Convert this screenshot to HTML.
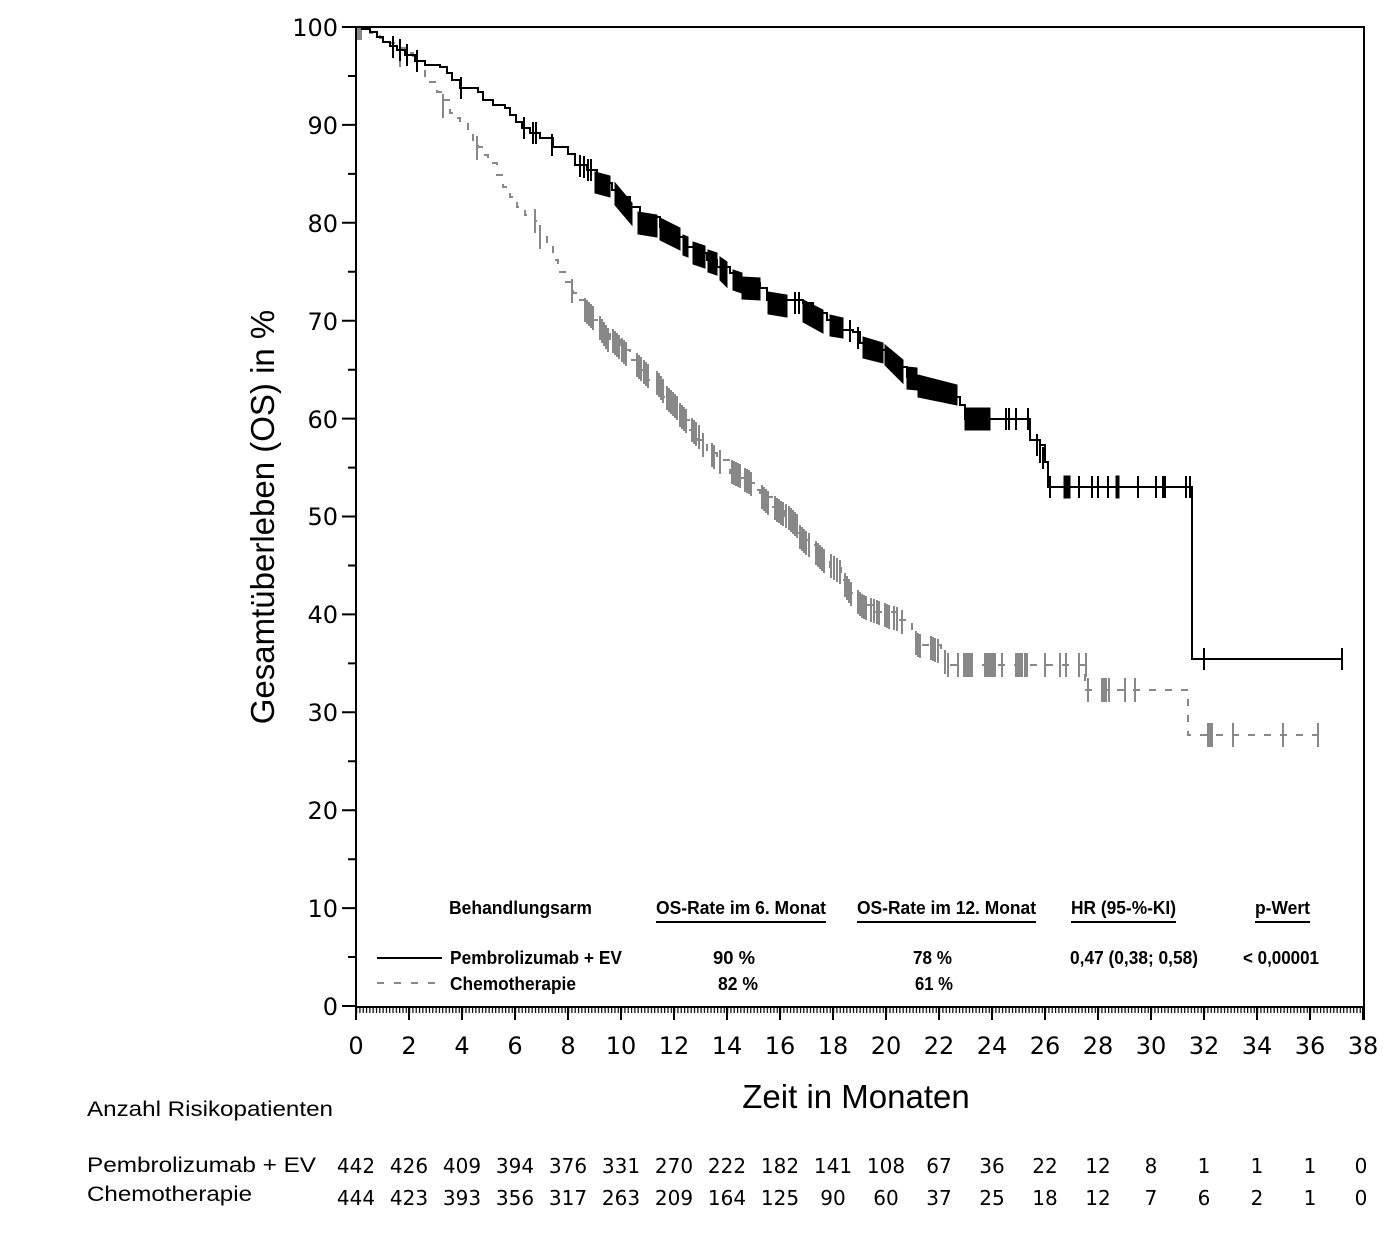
<!DOCTYPE html>
<html>
<head>
<meta charset="utf-8">
<style>
html,body{margin:0;padding:0;background:#fff;}
svg{display:block;}
.tl{font-family:"DejaVu Sans","Liberation Sans",sans-serif;font-size:24px;fill:#000;}
.rn{font-family:"DejaVu Sans","Liberation Sans",sans-serif;font-size:20px;fill:#000;}
.ar{font-family:"Liberation Sans",Arial,sans-serif;fill:#000;}
.lg{font-family:"Liberation Sans",Arial,sans-serif;font-weight:bold;font-size:18.5px;fill:#000;}
</style>
</head>
<body>
<svg width="1386" height="1233" viewBox="0 0 1386 1233" xmlns="http://www.w3.org/2000/svg">
<defs>
<pattern id="mt" x="356" y="0" width="3.3125" height="20" patternUnits="userSpaceOnUse">
<rect x="0" y="0" width="1.2" height="20" fill="#000"/>
</pattern>
</defs>
<rect x="0" y="0" width="1386" height="1233" fill="#fff"/>

<!-- frame -->
<path d="M356,27 H1364 V1007 H356 Z" fill="none" stroke="#000" stroke-width="2"/>
<path d="M356,1007 V1020 M1364,1007 V1020" stroke="#000" stroke-width="2"/>

<!-- y ticks -->
<path d="M342,1006 H356 M342,908.1 H356 M342,810.2 H356 M342,712.3 H356 M342,614.4 H356 M342,516.5 H356 M342,418.6 H356 M342,320.7 H356 M342,222.8 H356 M342,124.9 H356 M342,27 H356" stroke="#000" stroke-width="2"/>
<path d="M348,957 H356 M348,859.2 H356 M348,761.3 H356 M348,663.4 H356 M348,565.5 H356 M348,467.6 H356 M348,369.7 H356 M348,271.8 H356 M348,173.9 H356 M348,76 H356" stroke="#000" stroke-width="2"/>

<!-- y labels -->
<g class="tl" text-anchor="end">
<text x="338" y="1015">0</text>
<text x="338" y="917">10</text>
<text x="338" y="819">20</text>
<text x="338" y="721">30</text>
<text x="338" y="623">40</text>
<text x="338" y="525">50</text>
<text x="338" y="428">60</text>
<text x="338" y="330">70</text>
<text x="338" y="232">80</text>
<text x="338" y="134">90</text>
<text x="338" y="36">100</text>
</g>

<!-- x minor ticks -->
<rect x="356" y="1007" width="1008" height="6" fill="url(#mt)"/>
<!-- x major ticks -->
<path d="M356,1007 V1020 M409,1007 V1020 M462,1007 V1020 M515,1007 V1020 M568,1007 V1020 M621,1007 V1020 M674,1007 V1020 M727,1007 V1020 M780,1007 V1020 M833,1007 V1020 M886,1007 V1020 M939,1007 V1020 M992,1007 V1020 M1045,1007 V1020 M1098,1007 V1020 M1151,1007 V1020 M1204,1007 V1020 M1257,1007 V1020 M1310,1007 V1020 M1363,1007 V1020" stroke="#000" stroke-width="2"/>

<!-- x labels -->
<g class="tl" text-anchor="middle">
<text x="356" y="1054">0</text>
<text x="409" y="1054">2</text>
<text x="462" y="1054">4</text>
<text x="515" y="1054">6</text>
<text x="568" y="1054">8</text>
<text x="621" y="1054">10</text>
<text x="674" y="1054">12</text>
<text x="727" y="1054">14</text>
<text x="780" y="1054">16</text>
<text x="833" y="1054">18</text>
<text x="886" y="1054">20</text>
<text x="939" y="1054">22</text>
<text x="992" y="1054">24</text>
<text x="1045" y="1054">26</text>
<text x="1098" y="1054">28</text>
<text x="1151" y="1054">30</text>
<text x="1204" y="1054">32</text>
<text x="1257" y="1054">34</text>
<text x="1310" y="1054">36</text>
<text x="1363" y="1054">38</text>
</g>

<!-- axis titles -->
<text class="ar" font-size="33" text-anchor="middle" transform="translate(274,517) rotate(-90)">Gesamtüberleben (OS) in %</text>
<text class="ar" font-size="33" x="856" y="1108" text-anchor="middle">Zeit in Monaten</text>

<!-- Chemo curve (gray dashed) -->
<path d="M356,27 H362 V30 H370 V33 H380 V38 H390 V43 H400 V48 H408 V53 H413 V60 H417 V70 H425 V76 H430 V82 H437 V92 H443 V100 H450 V113 H455 V118 H460 V123 H468 V132 H473 V140 H478 V147 H483 V155 H488 V163 H497 V175 H503 V187 H510 V197 H517 V207 H525 V215 H535 V221 H540 V235 H547 V247 H553 V260 H558 V272 H565 V282 H573 V293 H580 V300 H587 V307 H592 V320 H602 V330 H610 V340 H620 V350 H630 V360 H637 V370 H647 V380 H658 V383 H663 V397 H673 V407 H680 V420 H690 V430 H697 V440 H707 V453 H717 V460 H730 V473 H740 V478 H747 V483 H755 V490 H760 V497 H773 V507 H785 V520 H795 V533 H800 V540 H810 V545 H818 V558 H830 V568 H841 V580 H850 V593 H860 V605 H875 V612 H898 V620 H912 V632 H918 V645 H941 V655 H945 V665 H1085 V690 H1188 V735 H1318" fill="none" stroke="#888" stroke-width="2" stroke-dasharray="7 9"/>
<rect x="357" y="28" width="5" height="12" fill="#888"/>
<!-- Chemo censor ticks -->
<path fill="none" stroke="#888" stroke-width="2" d="
M400,43V67 M443,94V118 M477,136V160 M535,209V233 M540,225V249 M572,279V303
M585,298V322 M587,300V324 M589,302V326 M591,304V328 M593,306V330
M600,316V340 M602,319V343 M604,322V346 M606,325V349 M608,328V352
M613,329V353 M615,331V355 M617,333V357 M619,335V359
M622,338V362 M624,340V364 M626,342V366
M637,353V377 M639,355V379 M641,357V381 M644,360V384 M646,362V386 M648,364V388
M657,371V395 M659,373V397 M661,376V400 M663,379V403
M667,386V410 M669,388V412 M671,390V414 M673,392V416 M675,394V418 M677,396V420
M680,403V427 M682,405V429 M684,407V431 M686,409V433
M692,418V442 M694,420V444 M696,422V446 M699,425V449
M703,433V457 M712,443V467 M714,445V469 M720,450V474
M732,460V484 M734,461V485 M736,462V486 M738,463V487 M740,464V488
M745,468V492 M747,469V493 M749,470V494 M751,472V496
M762,485V509 M764,487V511 M766,489V513 M768,491V515
M775,496V520 M777,498V522 M779,499V523 M781,501V525 M783,502V526 M786,504V528 M789,506V530 M791,508V532 M793,510V534 M795,512V536 M797,514V538
M800,525V549 M802,527V551 M804,529V553 M806,531V555 M809,533V557
M816,541V565 M818,543V567 M820,545V569 M822,547V571 M824,549V573
M831,554V578 M834,556V580 M837,558V582 M840,560V584
M845,573V597 M847,576V600 M849,579V603 M851,582V606
M858,590V614 M860,592V616 M862,594V618 M864,595V619 M866,596V620
M871,598V622 M874,599V623 M877,600V624 M879,601V625
M885,603V627 M887,604V628 M889,605V629 M894,606V630 M897,607V631
M902,610V634 M916,631V655 M918,633V657 M920,634V658
M931,636V660 M933,637V661 M935,638V662 M938,639V663
M945,650V674 M948,653V677 M958,653V677 M964,653V677 M966,653V677 M968,653V677 M970,653V677 M972,653V677
M985,653V677 M987,653V677 M989,653V677 M991,653V677 M993,653V677 M995,653V677 M1002,653V677
M1016,653V677 M1018,653V677 M1020,653V677 M1022,653V677 M1025,653V677 M1027,653V677 M1045,653V677 M1060,653V677 M1066,653V677 M1079,653V677 M1086,653V677
M1088,678V702 M1102,678V702 M1104,678V702 M1106,678V702 M1109,678V702 M1125,678V702 M1135,678V702
M1208,723V747 M1210,723V747 M1212,723V747 M1233,723V747 M1283,723V747 M1318,723V747"/>

<!-- Pembro curve (black solid) -->
<path d="M356,27 H362 V29 H370 V32 H377 V37 H383 V42 H390 V46 H397 V50 H405 V55 H415 V61 H425 V65 H440 V67 H447 V73 H452 V80 H460 V88 H478 V92 H483 V100 H493 V105 H505 V108 H510 V115 H516 V122 H522 V128 H530 V133 H540 V138 H553 V147 H568 V154 H575 V165 H587 V170 H597 V177 H605 V183 H612 V190 H620 V197 H630 V207 H640 V217 H660 V227 H672 V237 H685 V247 H697 V253 H707 V260 H717 V267 H730 V273 H740 V283 H760 V288 H767 V300 H803 V303 H813 V313 H827 V320 H840 V330 H853 V332 H860 V343 H873 V350 H887 V357 H897 V367 H907 V377 H920 V383 H947 V387 H953 V397 H960 V405 H965 V419 H1030 V440 H1040 V445 H1045 V462 H1048 V487 H1192 V659 H1342" fill="none" stroke="#000" stroke-width="2"/>

<!-- Pembro censor blocks -->
<g fill="#000" stroke="#000" stroke-width="1">
<polygon points="595,172 610,176 610,197 595,193"/>
<polygon points="615,183 632,203 632,225 615,205"/>
<polygon points="638,212 657,215 657,237 638,234"/>
<polygon points="660,218 680,228 680,250 660,240"/>
<polygon points="683,235 688,237 688,257 683,255"/>
<polygon points="693,242 705,246 705,268 693,264"/>
<polygon points="708,250 717,253 717,275 708,272"/>
<polygon points="720,257 727,262 727,287 720,280"/>
<polygon points="733,270 742,273 742,293 733,290"/>
<polygon points="742,277 760,278 760,300 742,299"/>
<polygon points="768,292 787,295 787,317 768,314"/>
<polygon points="803,300 823,310 823,333 803,322"/>
<polygon points="830,315 843,318 843,338 830,336"/>
<polygon points="863,337 883,343 883,363 863,358"/>
<polygon points="885,345 903,360 903,383 885,365"/>
<polygon points="907,367 917,368 917,390 907,389"/>
<polygon points="918,375 957,385 957,405 918,397"/>
<polygon points="965,408 990,408 990,430 965,430"/>
<polygon points="1064,476 1070,476 1070,498 1064,498"/>
<polygon points="1116,476 1119,476 1119,498 1116,498"/>
</g>
<!-- Pembro censor ticks -->
<path fill="none" stroke="#000" stroke-width="2" d="
M393,36V58 M400,39V61 M407,44V66 M417,50V72 M461,77V99 M524,117V139 M533,122V144 M536,122V144 M552,134V156
M580,155V177 M584,156V178 M588,159V181 M591,159V181
M795,292V314 M799,292V314 M850,320V342 M858,327V349
M1006,408V430 M1009,408V430 M1016,408V430 M1028,408V430
M1037,434V456 M1040,441V463 M1043,447V469
M1050,476V498 M1079,476V498 M1092,476V498 M1098,476V498 M1108,476V498 M1138,476V498 M1156,476V498 M1163,476V498 M1165,476V498 M1186,476V498 M1190,476V498
M1204,648V670 M1342,648V670"/>

<!-- legend table -->
<text class="lg" x="449" y="914" textLength="143" lengthAdjust="spacingAndGlyphs">Behandlungsarm</text>
<text class="lg" x="656" y="914" textLength="170" lengthAdjust="spacingAndGlyphs">OS-Rate im 6. Monat</text>
<text class="lg" x="857" y="914" textLength="179" lengthAdjust="spacingAndGlyphs">OS-Rate im 12. Monat</text>
<text class="lg" x="1071" y="914" textLength="105" lengthAdjust="spacingAndGlyphs">HR (95-%-KI)</text>
<text class="lg" x="1255" y="914" textLength="55" lengthAdjust="spacingAndGlyphs">p-Wert</text>
<path d="M656,922 H826 M857,922 H1036 M1071,922 H1176 M1255,922 H1310" stroke="#000" stroke-width="2"/>

<path d="M377,958 H442" stroke="#000" stroke-width="2"/>
<path d="M377,983 H440" stroke="#888" stroke-width="2" stroke-dasharray="7 10"/>
<text class="lg" x="450" y="964" textLength="172" lengthAdjust="spacingAndGlyphs">Pembrolizumab + EV</text>
<text class="lg" x="450" y="990" textLength="126" lengthAdjust="spacingAndGlyphs">Chemotherapie</text>
<text class="lg" x="713" y="964" textLength="42" lengthAdjust="spacingAndGlyphs">90 %</text>
<text class="lg" x="718" y="990" textLength="40" lengthAdjust="spacingAndGlyphs">82 %</text>
<text class="lg" x="913" y="964" textLength="39" lengthAdjust="spacingAndGlyphs">78 %</text>
<text class="lg" x="915" y="990" textLength="38" lengthAdjust="spacingAndGlyphs">61 %</text>
<text class="lg" x="1070" y="964" textLength="128" lengthAdjust="spacingAndGlyphs">0,47 (0,38; 0,58)</text>
<text class="lg" x="1243" y="964" textLength="76" lengthAdjust="spacingAndGlyphs">&lt; 0,00001</text>

<!-- risk table -->
<text class="ar" font-size="21" x="87" y="1116" textLength="246" lengthAdjust="spacingAndGlyphs">Anzahl Risikopatienten</text>
<text class="ar" font-size="21" x="87" y="1172" textLength="229" lengthAdjust="spacingAndGlyphs">Pembrolizumab + EV</text>
<text class="ar" font-size="21" x="87" y="1201" textLength="165" lengthAdjust="spacingAndGlyphs">Chemotherapie</text>
<g class="rn" text-anchor="middle">
<text x="356" y="1173">442</text><text x="409" y="1173">426</text><text x="462" y="1173">409</text><text x="515" y="1173">394</text><text x="568" y="1173">376</text><text x="621" y="1173">331</text><text x="674" y="1173">270</text><text x="727" y="1173">222</text><text x="780" y="1173">182</text><text x="833" y="1173">141</text><text x="886" y="1173">108</text><text x="939" y="1173">67</text><text x="992" y="1173">36</text><text x="1045" y="1173">22</text><text x="1098" y="1173">12</text><text x="1151" y="1173">8</text><text x="1204" y="1173">1</text><text x="1257" y="1173">1</text><text x="1310" y="1173">1</text><text x="1361" y="1173">0</text>
<text x="356" y="1205">444</text><text x="409" y="1205">423</text><text x="462" y="1205">393</text><text x="515" y="1205">356</text><text x="568" y="1205">317</text><text x="621" y="1205">263</text><text x="674" y="1205">209</text><text x="727" y="1205">164</text><text x="780" y="1205">125</text><text x="833" y="1205">90</text><text x="886" y="1205">60</text><text x="939" y="1205">37</text><text x="992" y="1205">25</text><text x="1045" y="1205">18</text><text x="1098" y="1205">12</text><text x="1151" y="1205">7</text><text x="1204" y="1205">6</text><text x="1257" y="1205">2</text><text x="1310" y="1205">1</text><text x="1361" y="1205">0</text>
</g>
</svg>
</body>
</html>
